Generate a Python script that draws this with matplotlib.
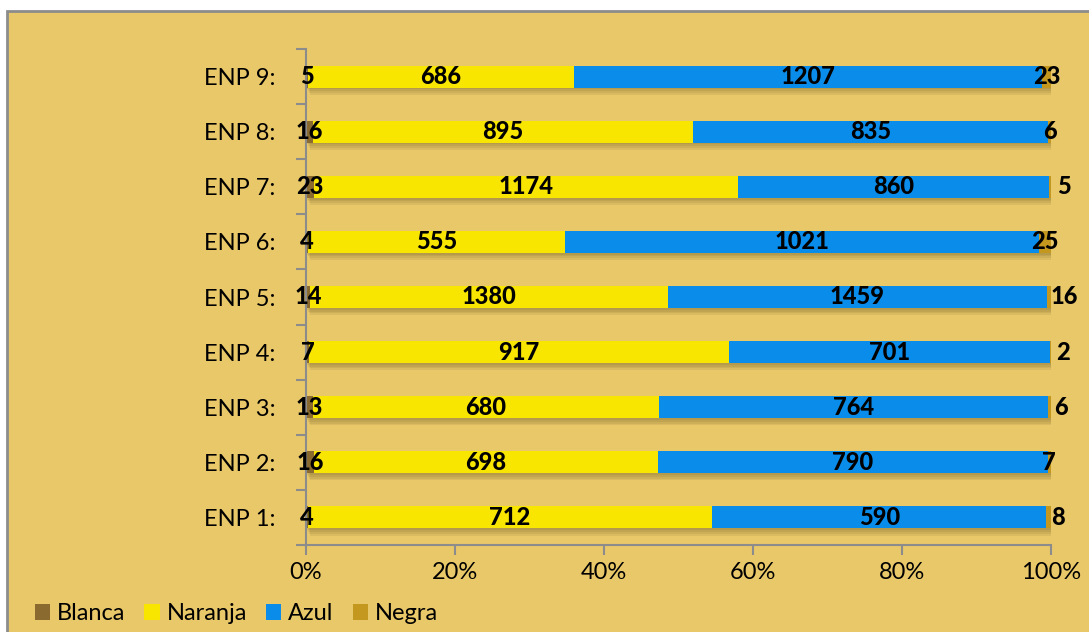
import numpy as np
import matplotlib
matplotlib.use("Agg")
import matplotlib.pyplot as plt
import matplotlib.patheffects as pe
from matplotlib.patches import Rectangle, Patch

plt.rcParams['font.family'] = ['Lato', 'DejaVu Sans']

categories = ['ENP 1:', 'ENP 2:', 'ENP 3:', 'ENP 4:', 'ENP 5:',
              'ENP 6:', 'ENP 7:', 'ENP 8:', 'ENP 9:']
series_names = ['Blanca', 'Naranja', 'Azul', 'Negra']
blanca = [4, 16, 13, 7, 14, 4, 23, 16, 5]
naranja = [712, 698, 680, 917, 1380, 555, 1174, 895, 686]
azul = [590, 790, 764, 701, 1459, 1021, 860, 835, 1207]
negra = [8, 7, 6, 2, 16, 25, 5, 6, 23]
x_ticks = [0, 0.2, 0.4, 0.6, 0.8, 1.0]
x_tick_labels = ['0%', '20%', '40%', '60%', '80%', '100%']

colors = ['#8a6a2e', '#f9e600', '#0a8ceb', '#c4981f']
bg = '#e9c86a'
# nudge (in points) for the small end labels, as excel moves them
negra_nudge = [7, 0, 8, 9, 11, 0, 10, 0, 0]

W, H = 1089, 632
fig = plt.figure(figsize=(W / 100, H / 100), dpi=100, facecolor='white')
fig.patches.append(Rectangle((7 / W, -0.1), 1.2, 1 - 11 / H + 0.1,
                             transform=fig.transFigure, facecolor=bg,
                             edgecolor='#8c8c8c', linewidth=2, zorder=-5))

ax = fig.add_axes([306 / W, 87 / H, 745 / W, 496 / H])
ax.set_facecolor('none')

data = np.array([blanca, naranja, azul, negra], dtype=float)
totals = data.sum(axis=0)
shares = data / totals
y = np.arange(len(categories))

# soft shadow made of a few faint offset copies
shadow = [pe.SimplePatchShadow(offset=(o, -o * 1.6), shadow_rgbFace='#4a3a10', alpha=0.09)
          for o in (0.8, 1.6, 2.4, 3.2)] + [pe.Normal()]
left = np.zeros(len(categories))
for i, name in enumerate(series_names):
    bars = ax.barh(y, shares[i], left=left, height=0.4, color=colors[i], zorder=2)
    for b in bars:
        b.set_path_effects(shadow)
    for j in range(len(categories)):
        cx = left[j] + shares[i][j] / 2
        dx = negra_nudge[j] if i == 3 else 0
        ax.annotate(f"{int(data[i][j])}", (cx, y[j]), xytext=(dx, 0),
                    textcoords='offset points', ha='center', va='center',
                    fontsize=17, fontweight='black', color='black', zorder=5,
                    annotation_clip=False)
    left = left + shares[i]

ax.set_xlim(0, 1)
ax.set_ylim(-0.5, len(categories) - 0.5)
ax.set_xticks(x_ticks)
ax.set_xticklabels(x_tick_labels, fontsize=17)
ax.set_yticks(y)
ax.set_yticklabels(categories, fontsize=17)
ax.set_yticks(np.arange(-0.5, len(categories)), minor=True)
ax.tick_params(axis='y', which='major', length=0, pad=22)
ax.tick_params(axis='y', which='minor', length=7, color='#8c8c8c', width=1.5)
ax.tick_params(axis='x', length=7, color='#8c8c8c', width=1.5, pad=5)
for s in ['top', 'right']:
    ax.spines[s].set_visible(False)
for s in ['left', 'bottom']:
    ax.spines[s].set_color('#8c8c8c')
    ax.spines[s].set_linewidth(1.5)

handles = [Patch(facecolor=c, label=n) for c, n in zip(colors, series_names)]
fig.legend(handles=handles, loc='lower left', bbox_to_anchor=(18 / W, -9 / H), ncol=4,
           frameon=False, fontsize=17, handlelength=0.65, handleheight=0.65,
           handletextpad=0.3, columnspacing=0.8, borderaxespad=0.3)

fig.savefig('out.png', dpi=100, facecolor='white')
